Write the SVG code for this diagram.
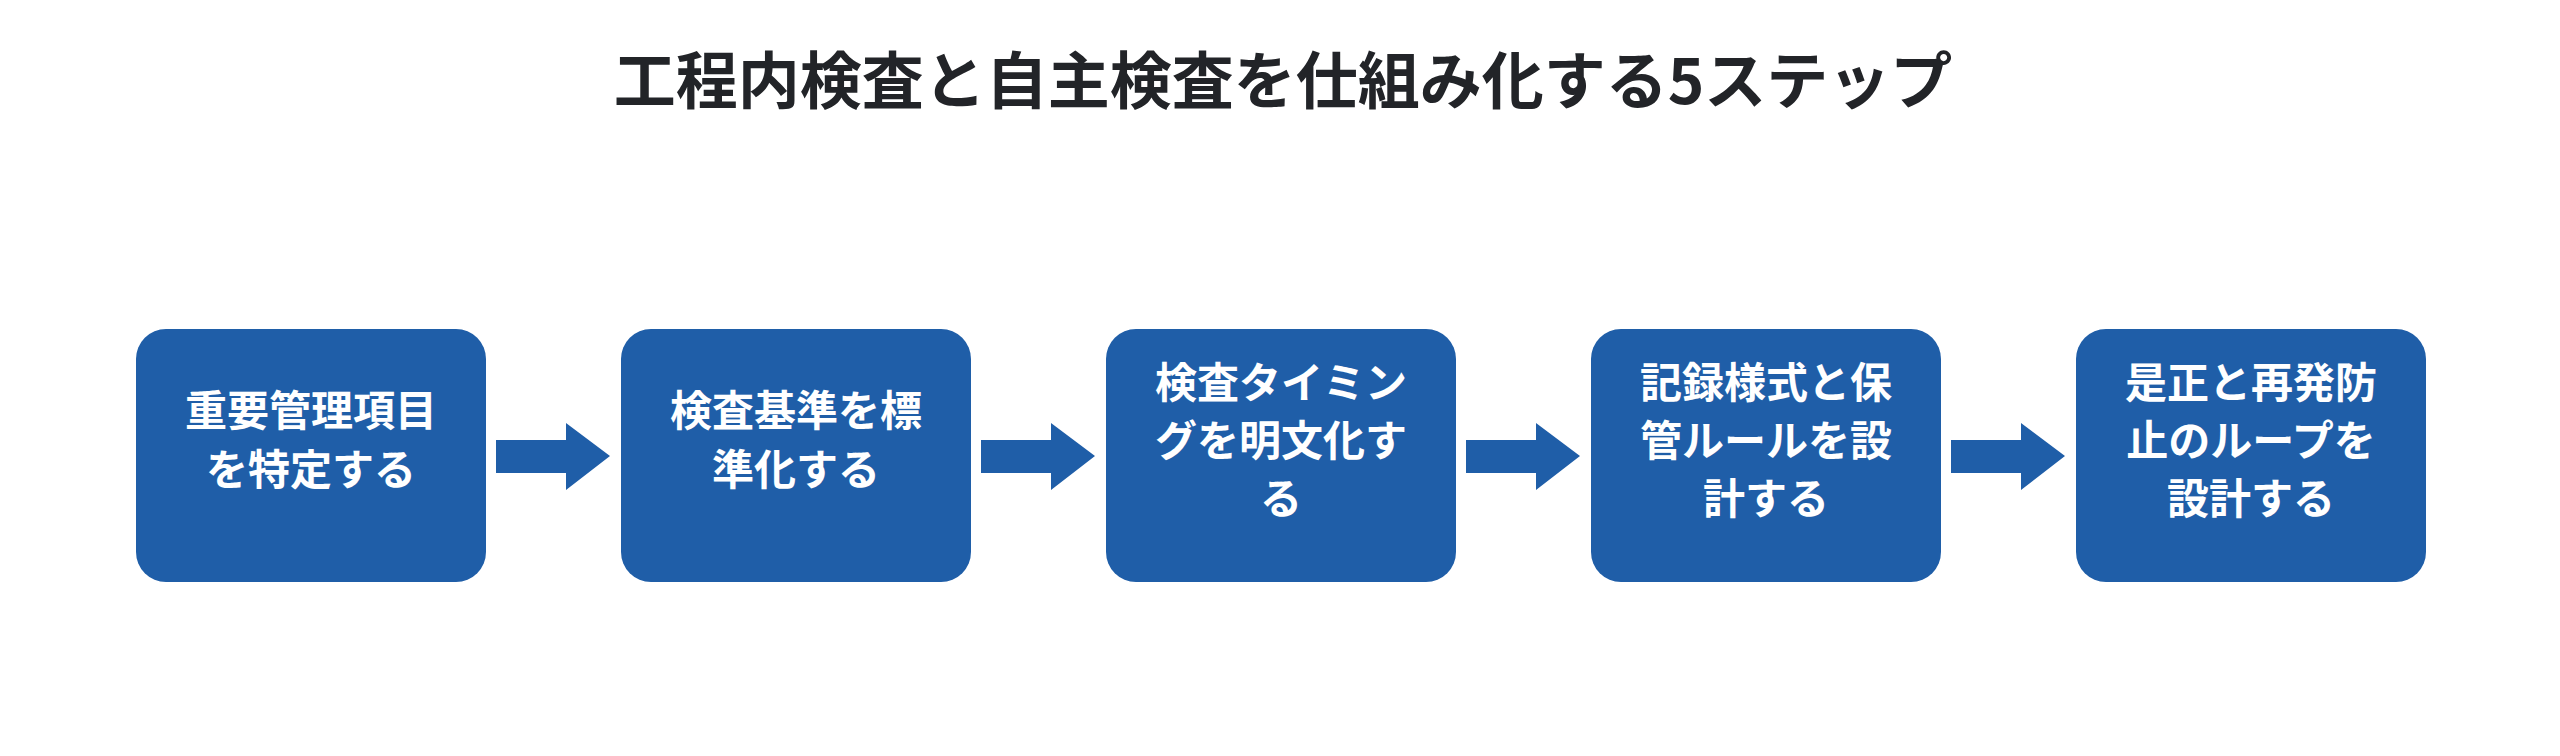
<svg xmlns="http://www.w3.org/2000/svg" width="2560" height="756" viewBox="0 0 2560 756">
<style>
.t{font-family:"Noto Sans CJK JP","Noto Sans",sans-serif;font-weight:bold;fill:#222428;font-size:62px;text-anchor:middle}
.b{fill:#1f5ea8}
.l{font-family:"Noto Sans CJK JP","Noto Sans",sans-serif;font-weight:bold;fill:#fff;font-size:42px;text-anchor:middle}
.a{fill:#1f5ea8}
</style>
<rect width="2560" height="756" fill="#fff"/>
<text class="t" x="1283" y="104">工程内検査と自主検査を仕組み化する5ステップ</text>
<g id="connectors">
<polygon class="a" points="496,440 566,440 566,423 610,456 566,490 566,473 496,473"/>
<polygon class="a" transform="translate(485,0)" points="496,440 566,440 566,423 610,456 566,490 566,473 496,473"/>
<polygon class="a" transform="translate(970,0)" points="496,440 566,440 566,423 610,456 566,490 566,473 496,473"/>
<polygon class="a" transform="translate(1455,0)" points="496,440 566,440 566,423 610,456 566,490 566,473 496,473"/>
</g>
<g id="n1"><rect class="b" x="136" y="329" width="350" height="253" rx="30"/>
<text class="l" x="311" y="426">重要管理項目</text><text class="l" x="311" y="485">を特定する</text></g>
<g id="n2"><rect class="b" x="621" y="329" width="350" height="253" rx="30"/>
<text class="l" x="796" y="426">検査基準を標</text><text class="l" x="796" y="485">準化する</text></g>
<g id="n3"><rect class="b" x="1106" y="329" width="350" height="253" rx="30"/>
<text class="l" x="1281" y="398">検査タイミン</text><text class="l" x="1281" y="456">グを明文化す</text><text class="l" x="1281" y="514">る</text></g>
<g id="n4"><rect class="b" x="1591" y="329" width="350" height="253" rx="30"/>
<text class="l" x="1766" y="398">記録様式と保</text><text class="l" x="1766" y="456">管ルールを設</text><text class="l" x="1766" y="514">計する</text></g>
<g id="n5"><rect class="b" x="2076" y="329" width="350" height="253" rx="30"/>
<text class="l" x="2251" y="398">是正と再発防</text><text class="l" x="2251" y="456">止のループを</text><text class="l" x="2251" y="514">設計する</text></g>
</svg>
